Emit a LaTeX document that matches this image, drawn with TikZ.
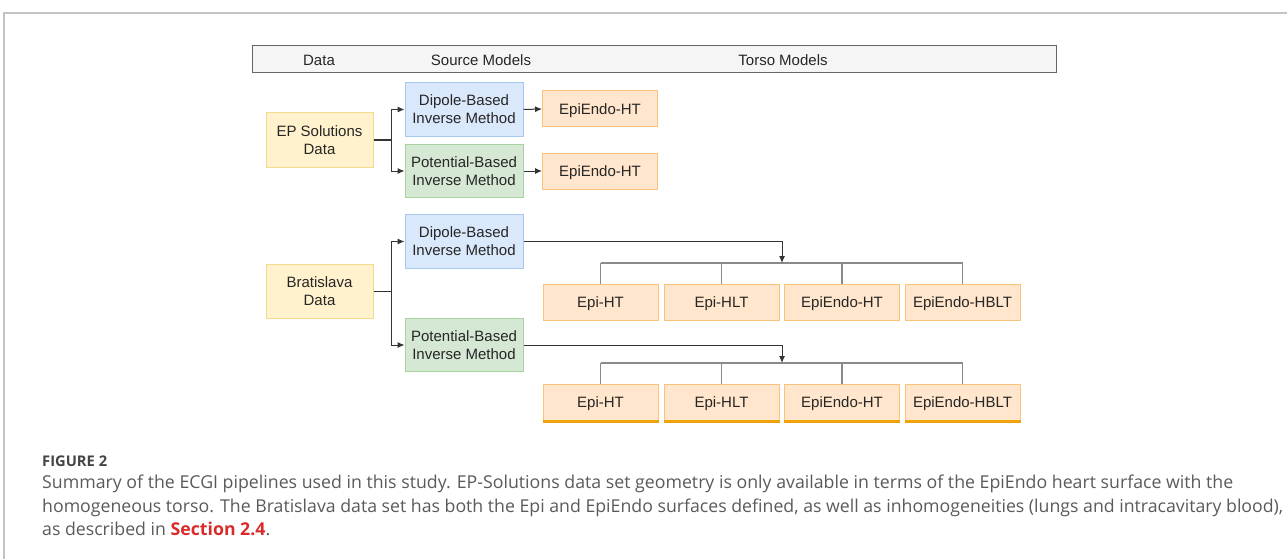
\documentclass[tikz,border=0pt]{standalone}
\usepackage{fontspec}
\usepackage{graphicx}
\setmainfont{Liberation Sans}
\newfontfamily\capfont{Open Sans}
\usetikzlibrary{arrows.meta,calc}
\definecolor{framec}{HTML}{C4C4C4}
\definecolor{hdrfill}{HTML}{F5F5F5}
\definecolor{hdrdraw}{HTML}{666666}
\definecolor{datafill}{HTML}{FFF2CC}
\definecolor{datadraw}{HTML}{F6D88E}
\definecolor{dipfill}{HTML}{DAE8FC}
\definecolor{dipdraw}{HTML}{A9C8EE}
\definecolor{potfill}{HTML}{D5E8D4}
\definecolor{potdraw}{HTML}{A8D3A0}
\definecolor{torfill}{HTML}{FFE6CC}
\definecolor{tordraw}{HTML}{F9C37C}
\definecolor{torbot}{HTML}{F0A30A}
\definecolor{conncol}{HTML}{333333}
\definecolor{buscol}{HTML}{8A8A8A}
\definecolor{captxt}{HTML}{5A5A5A}
\definecolor{caphead}{HTML}{444444}
\definecolor{secred}{HTML}{D92B2B}
\tikzset{
  box/.style={rectangle, line width=1pt, align=center, inner sep=0pt,
    font=\fontsize{15}{18}\selectfont, text=black!85},
  databox/.style={box, fill=datafill, draw=datadraw, minimum width=107pt, minimum height=54pt},
  dipbox/.style={box, fill=dipfill, draw=dipdraw, minimum width=118pt, minimum height=54pt},
  potbox/.style={box, fill=potfill, draw=potdraw, minimum width=118pt, minimum height=53pt},
  torbox/.style={box, fill=torfill, draw=tordraw, minimum width=115pt, minimum height=36pt,
    text height=10.7pt, text depth=0pt},
  hdrtext/.style={font=\fontsize{15}{18}\selectfont, text=black!85, inner sep=0pt},
  conn/.style={draw=conncol, line width=1pt},
  arr/.style={conn, -{Latex[length=7pt,width=6pt]}},
  bus/.style={draw=buscol, line width=1.6pt},
  frameline/.style={draw=framec, line width=2pt},
  capline/.style={anchor=base west, inner sep=0pt, text=captxt, font=\capfont\fontsize{15}{18}\selectfont},
}
\begin{document}
\begin{tikzpicture}[x=1pt,y=-1pt]
\useasboundingbox (0,0) rectangle (1287,559);
% outer frame
\draw[frameline] (4,559) -- (4,13) -- (1287,13);
% header
\node[draw=hdrdraw, fill=hdrfill, line width=1pt, minimum width=804pt, minimum height=27pt, inner sep=0pt] (hdr) at (654,59.5) {};
\node[hdrtext] (hdata) at (319,60) {Data};
\node[hdrtext] (hsrc) at (481,60) {Source Models};
\node[hdrtext] (htor) at (783,60) {Torso Models};
% EP Solutions
\node[databox] (ep) at (319.5,140) {EP Solutions\\Data};
\node[dipbox] (dip1) at (464,109.5) {Dipole-Based\\Inverse Method};
\node[potbox] (pot1) at (464,171) {Potential-Based\\Inverse Method};
\node[torbox] (ee1) at (600,109) {EpiEndo-HT};
\node[torbox] (ee2) at (600,171) {EpiEndo-HT};
\draw[arr] (ep.east) -- ++(18,0) |- (dip1.west);
\draw[arr] (ep.east) -- ++(18,0) |- (pot1.west);
\draw[arr] (dip1.east) -- (ee1.west);
\draw[arr] (pot1.east) -- (ee2.west);
% Bratislava
\node[databox] (br) at (319.5,291) {Bratislava\\Data};
\node[dipbox] (dip2) at (464,241.5) {Dipole-Based\\Inverse Method};
\node[potbox] (pot2) at (464,345) {Potential-Based\\Inverse Method};
\draw[arr] (br.east) -- ++(18,0) |- (dip2.west);
\draw[arr] (br.east) -- ++(18,0) |- (pot2.west);
% row 1
\node[torbox] (a1) at (600.5,302) {Epi-HT};
\node[torbox] (a2) at (721.5,302) {Epi-HLT};
\node[torbox] (a3) at (842,302) {EpiEndo-HT};
\node[torbox] (a4) at (962.5,302) {EpiEndo-HBLT};
\coordinate (busA) at (782,263);
\foreach \n in {a1,a2,a3,a4} \draw[bus] (\n.north) -- (\n.north |- busA);
\draw[bus] (a1.north |- busA) -- (a4.north |- busA);
\draw[arr] (dip2.east) -| (busA);
% row 2
\node[torbox] (b1) at (600.5,402) {Epi-HT};
\node[torbox] (b2) at (721.5,402) {Epi-HLT};
\node[torbox] (b3) at (842,402) {EpiEndo-HT};
\node[torbox] (b4) at (962.5,402) {EpiEndo-HBLT};
\foreach \n in {b1,b2,b3,b4} \draw[draw=torbot, line width=2.5pt] ([yshift=-1pt]\n.south west) -- ([yshift=-1pt]\n.south east);
\coordinate (busB) at (782,363);
\foreach \n in {b1,b2,b3,b4} \draw[bus] (\n.north) -- (\n.north |- busB);
\draw[bus] (b1.north |- busB) -- (b4.north |- busB);
\draw[arr] (pot2.east) -| (busB);
% caption
\node[capline, text=caphead, font=\capfont\bfseries\fontsize{15}{18}\selectfont] (figlab) at (42,466) {\resizebox{65pt}{!}{FIGURE 2}};
\node[capline] (cap1) at (42,488) {\resizebox{1191pt}{!}{Summary of the ECGI pipelines used in this study. EP-Solutions data set geometry is only available in terms of the EpiEndo heart surface with the}};
\node[capline] (cap2) at (42,512) {\resizebox{1241pt}{!}{homogeneous torso. The Bratislava data set has both the Epi and EpiEndo surfaces defined, as well as inhomogeneities (lungs and intracavitary blood),}};
\node[capline] (cap3) at (42,535) {\resizebox{228pt}{!}{as described in \textcolor{secred}{\bfseries Section 2.4}.}};
\end{tikzpicture}
\end{document}
